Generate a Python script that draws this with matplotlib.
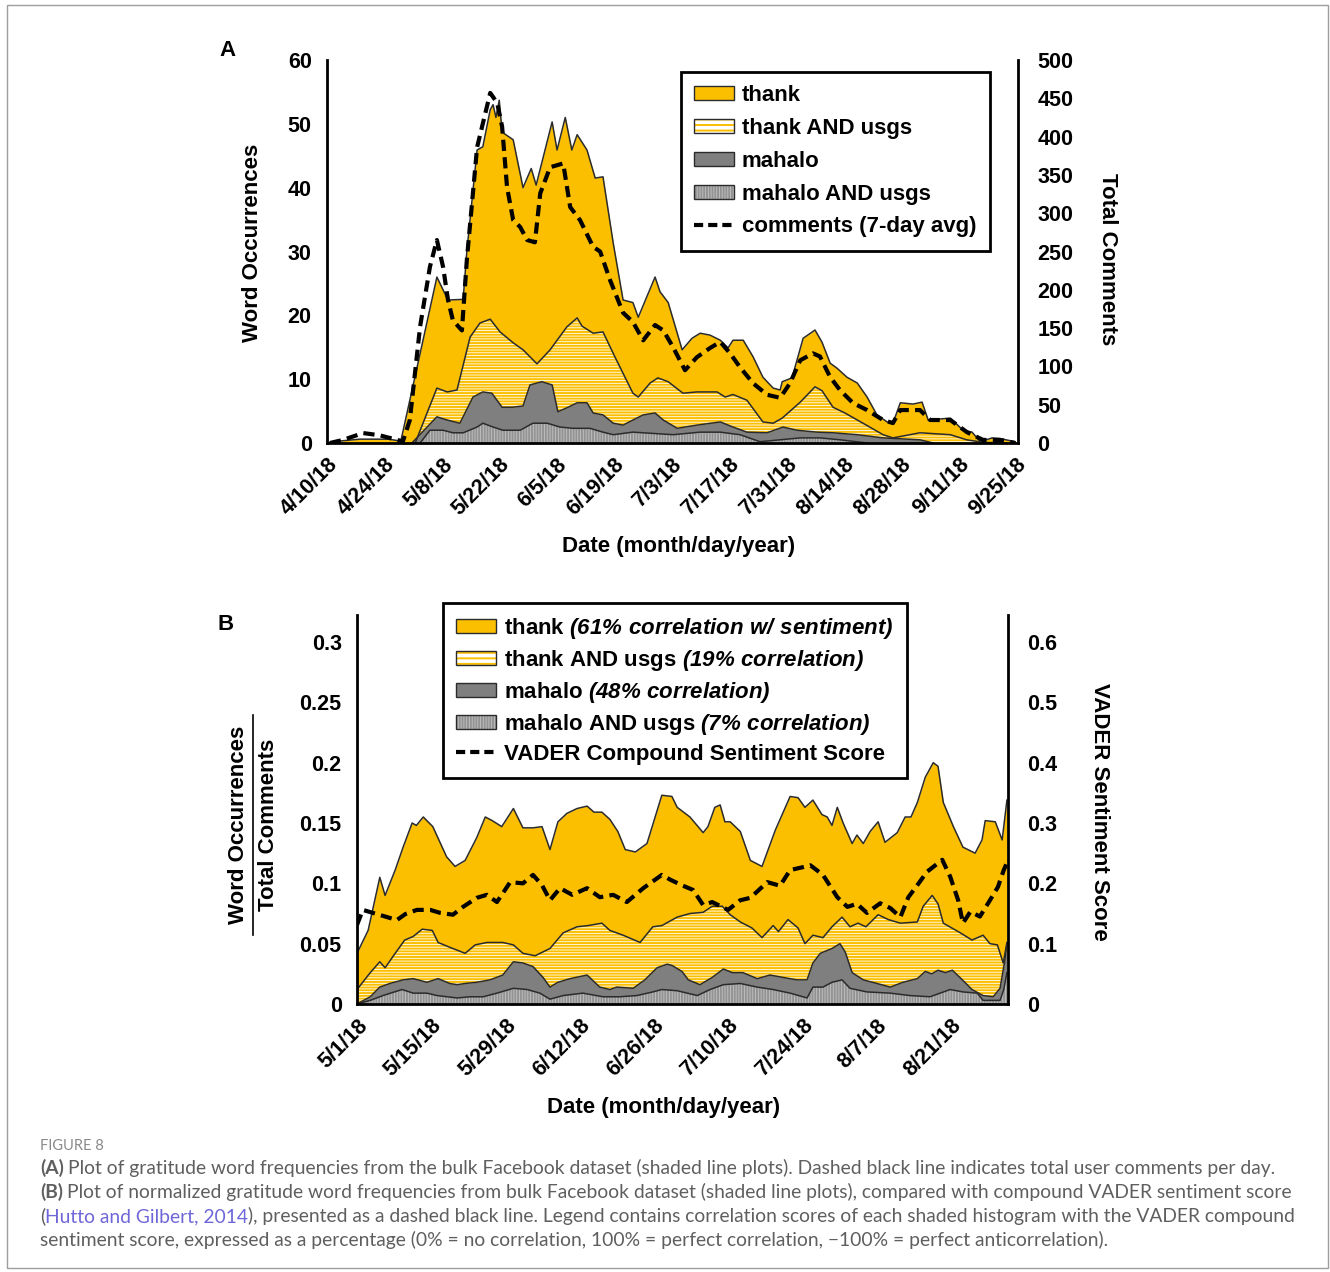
import matplotlib
matplotlib.use("Agg")
import matplotlib.pyplot as plt
import pandas as pd
from matplotlib.patches import Patch, Rectangle
from matplotlib.lines import Line2D
from matplotlib.text import Annotation

plt.rcParams["font.family"] = "Liberation Sans"
plt.rcParams["font.weight"] = "bold"
plt.rcParams["hatch.linewidth"] = 1.4
plt.rcParams["mathtext.fontset"] = "custom"
plt.rcParams["mathtext.rm"] = "Liberation Sans:italic:bold"
plt.rcParams["mathtext.it"] = "Liberation Sans:italic:bold"
plt.rcParams["mathtext.bf"] = "Liberation Sans:italic:bold"

# ---------------- panel A data (days after 4/10/18) ----------------
thank_a_days = [0, 3, 8, 15, 18, 22.7, 26.8, 29.5, 33.2, 34.1, 36.6, 38, 39.8, 40.5, 41.2,
                42, 42.7, 45.4, 47.8, 49.8, 51, 54.9, 56.1, 58.1, 59.7, 61, 63.4, 65.4, 67.3,
                69.8, 72.2, 74.6, 75.9, 80, 81.2, 83.2, 86.6, 89, 91, 93.4, 95.9, 97.8, 99,
                101.5, 103.9, 106.3, 108.8, 110.5, 111, 113.4, 116.1, 119, 120.7, 122.7, 124.4,
                126.8, 129.3, 131.7, 134.1, 136.6, 138, 139.8, 142.9, 145.1, 146.6, 152, 155.1,
                157.3, 159.3, 162.2, 164.1, 167.8]
thank_a = [0, 0.3, 0.6, 0.6, 0.3, 14, 26, 22.4, 22.5, 30, 45.9, 46.4, 52.2, 53, 51,
           53.7, 48.7, 47.5, 40, 43, 40.4, 50.3, 45.9, 51, 45.9, 48.3, 45.9, 41.5, 41.7,
           31.3, 22.4, 22, 19.7, 26, 23.7, 22, 14.6, 16.4, 17.2, 16.9, 16.1, 14.9, 16.1,
           16.1, 13.5, 10.3, 8.6, 8.3, 9.6, 10.2, 16.4, 17.7, 15.8, 12.5, 11.7,
           10.3, 9.4, 7.2, 4.4, 3.3, 3.1, 6.3, 6.1, 6.4, 3.6, 3.9, 2,
           1.7, 0.2, 0.8, 0.7, 0.2]

thank_usgs_a_days = [21.5, 26.8, 29.3, 31.7, 34.9, 37.3, 39.8, 42.2, 45.4, 47.8, 51.2, 54.4,
                     58.5, 61, 62.2, 64.9, 67.3, 70.2, 74.6, 75.9, 78.8, 80.7, 83.2, 86.8,
                     90.2, 95.1, 97.1, 99, 102.4, 106.3, 108.8, 111, 115.4, 119, 120.7, 123.4,
                     126.3, 130.7, 135.6, 138, 144.6, 152, 156, 160, 166]
thank_usgs_a = [0, 8.6, 8, 8.3, 16.6, 18.8, 19.4, 17.4, 15.7, 14.6, 12.4, 14.6,
                18.2, 19.6, 18.3, 17.2, 17.4, 13.5, 7.8, 7.2, 9.4, 10.2, 9.6, 7.8,
                8, 8, 7.2, 7.6, 6.7, 3.3, 3.1, 3.9, 6.4, 8.8, 8.2, 5.6,
                4.7, 3.1, 1.3, 0.8, 1.6, 1.3, 0.5, 0.1, 0]

mahalo_a_days = [20.7, 26.8, 29.3, 32.4, 35.6, 38, 40.2, 42.7, 45.1, 47.8, 49.5, 52.4, 54.9,
                 56.3, 58.8, 61, 63.4, 64.9, 67.3, 69.8, 72.2, 74.6, 77.1, 80, 82, 85.4, 90.2,
                 95.9, 99, 102.4, 107.3, 111.2, 114.6, 119.5, 123.4, 129.3, 135.6, 144.6, 147.8]
mahalo_a = [0, 4.1, 3.6, 3.1, 7.2, 8, 7.8, 5.6, 5.6, 5.8, 9.1, 9.6, 9.1,
            4.9, 5.6, 6.3, 6.3, 4.7, 4.4, 3.1, 2.8, 3.6, 4.4, 4.7, 3.6, 2.3, 2.8,
            3.3, 2.5, 1.7, 1.6, 2.5, 2, 1.7, 1.6, 1.3, 0.8, 0.5, 0]

mahalo_usgs_a_days = [22.7, 25.1, 28.3, 30.7, 33.2, 36.6, 38, 40.5, 42.9, 47.1, 50.2, 53.7,
                      56.8, 60, 64.1, 67.3, 69.8, 74.6, 79.5, 84.4, 91, 95.9, 100.7, 105.6,
                      110.5, 115.4, 120.2, 125.1, 131.7]
mahalo_usgs_a = [0, 2, 2, 1.6, 1.6, 2.5, 3.1, 2.5, 2, 2, 3.1, 3.1,
                 2.5, 2.3, 2.3, 1.7, 1.3, 1.7, 1.5, 1.3, 1.7, 1.7, 1.3, 0.2,
                 0.5, 0.8, 0.8, 0.5, 0]

comments_days = [0.7, 3.9, 8.8, 12.9, 17.1, 18.5, 20.2, 22.7, 25.1, 26.8, 28.3, 29.5, 30.7,
                 32.9, 34.1, 36.6, 39.8, 41.5, 42.7, 43.9, 45.4, 47.1, 48.8, 50.7, 52, 54.4,
                 57.6, 59.3, 61.7, 64.9, 66.6, 69, 72.2, 74.6, 77.1, 80, 82, 84.4, 87.3, 90.2,
                 93.4, 95.9, 98.3, 100.7, 103.9, 107.3, 110.5, 112.9, 115.4, 118.5, 120.2,
                 122.7, 125.1, 128.3, 131.7, 135.6, 138, 139.8, 144.6, 147.1, 152, 156.1, 160,
                 164.1, 167.8]
comments = [0, 4, 13, 10, 4, 2, 30, 152, 230, 265, 230, 187, 160,
            147, 239, 386, 457, 444, 413, 334, 291, 282, 265, 262, 326, 360,
            365, 308, 291, 256, 250, 213, 170, 158, 134, 154, 147, 125, 95, 112,
            124, 132, 117, 99, 78, 63, 59, 78, 108, 117, 113,
            86, 69, 52, 43, 30, 26, 43, 43, 30, 30, 14, 4,
            4, 0]

# ---------------- panel B data (days after 5/1/18) ----------------
thank_b_days = [0, 2.1, 4.3, 5.3, 7.2, 8.7, 10.4, 11.2, 12.5, 14.3, 16.9, 18.5, 20.4, 22.6,
                24.2, 25.5, 27.3, 29.5, 31.3, 33.2, 34.9, 36.4, 37.9, 39.6, 41.5, 43.4, 44.7,
                46.2, 47.7, 49.2, 50.6, 52.5, 54.7, 57.5, 59.4, 60.4, 62.8, 65.3, 66.2, 67.5,
                68.5, 69.4, 70.4, 72.3, 74.2, 76.4, 78.9, 81.7, 83.2, 84.5, 86, 87.7, 88.7,
                89.6, 90.6, 91.7, 93.4, 94.3, 95.5, 96.8, 98.3, 99.6, 101.9, 103.4, 104.5,
                105.7, 107.2, 108.7, 109.6, 110.6, 112.5, 114.3, 116.6, 117.9, 118.5, 120.4,
                121.7, 122.6]
thank_b = [0.042, 0.061, 0.105, 0.09, 0.111, 0.13, 0.15, 0.148, 0.155, 0.147, 0.122, 0.114,
           0.119, 0.138, 0.155, 0.152, 0.147, 0.162, 0.146, 0.146, 0.147, 0.128, 0.151, 0.158,
           0.162, 0.164, 0.159, 0.159, 0.153, 0.143, 0.128, 0.126, 0.133, 0.173, 0.172, 0.163,
           0.155, 0.142, 0.147, 0.163, 0.165, 0.151, 0.151, 0.143, 0.119, 0.114, 0.144, 0.172,
           0.171, 0.163, 0.169, 0.157, 0.155, 0.148, 0.163, 0.15, 0.133, 0.14, 0.133, 0.143,
           0.151, 0.134, 0.142, 0.155, 0.155, 0.167, 0.188, 0.2, 0.197, 0.167, 0.147, 0.13,
           0.125, 0.136, 0.152, 0.151, 0.136, 0.169]

thank_usgs_b_days = [0, 2.5, 4.3, 5.3, 7.2, 9, 10.6, 12.3, 14.2, 15.3, 17.5, 20.4, 22.3, 24.5,
                     27.5, 29.5, 31.3, 33.6, 36.4, 38.9, 41.5, 43.6, 46.2, 47.7, 50.2, 53.4,
                     55.8, 57.5, 60.4, 62.8, 65.3, 67, 68.9, 70.4, 72.3, 74.5, 76.4, 78.5, 79.5,
                     81.3, 83.2, 84.5, 86, 87.9, 89.6, 91.5, 93, 94.5, 96, 98.3, 100.2, 102.5,
                     105.7, 106.8, 108.5, 109.6, 110.6, 113.8, 116, 118.1, 119.4, 120.8, 121.9,
                     122.6]
thank_usgs_b = [0.012, 0.026, 0.035, 0.03, 0.042, 0.053, 0.056, 0.062, 0.061, 0.051, 0.047,
                0.042, 0.049, 0.051, 0.051, 0.049, 0.042, 0.04, 0.046, 0.059, 0.064, 0.065,
                0.067, 0.061, 0.057, 0.051, 0.064, 0.065, 0.072, 0.075, 0.076, 0.081, 0.081,
                0.074, 0.068, 0.063, 0.055, 0.065, 0.06, 0.07, 0.063, 0.05, 0.057, 0.055,
                0.064, 0.072, 0.064, 0.067, 0.064, 0.074, 0.07, 0.067, 0.068, 0.081, 0.09,
                0.083, 0.067, 0.059, 0.053, 0.057, 0.05, 0.049, 0.034, 0.051]

mahalo_b_days = [0, 2.5, 4.3, 6.2, 8.7, 10.6, 13.2, 15.3, 17.5, 18.9, 20.4, 22.6, 25.1, 27.5,
                 29.5, 31.3, 33.2, 35.1, 36.4, 37.9, 40.2, 43.4, 45.8, 47.7, 49, 52.1, 54.3,
                 56.6, 58.5, 59.4, 61.3, 62.5, 64.7, 67, 69.1, 70.8, 72.8, 75.5, 77.9, 80.4, 83,
                 84.9, 86, 87.4, 89.6, 91.1, 92.1, 93.4, 95.5, 98.1, 100.6, 103, 105.7, 107.2,
                 108.4, 109.6, 111, 112.3, 114.2, 116, 118.1, 120, 121.3, 122.2, 122.6]
mahalo_b = [0, 0.006, 0.014, 0.017, 0.02, 0.021, 0.018, 0.021, 0.017, 0.016, 0.017, 0.018,
            0.02, 0.024, 0.035, 0.034, 0.031, 0.022, 0.014, 0.018, 0.021, 0.024, 0.014, 0.012,
            0.014, 0.013, 0.02, 0.03, 0.033, 0.032, 0.027, 0.02, 0.016, 0.022, 0.029, 0.026,
            0.026, 0.021, 0.024, 0.022, 0.02, 0.02, 0.034, 0.042, 0.046, 0.05, 0.043, 0.026,
            0.02, 0.017, 0.014, 0.018, 0.021, 0.027, 0.025, 0.028, 0.026, 0.028, 0.02, 0.012,
            0.007, 0.006, 0.013, 0.036, 0.05]

mahalo_usgs_b_days = [0, 2.5, 4.9, 8.5, 10.6, 13.2, 15.1, 17, 18.9, 21.3, 23.8, 26.4, 29.5,
                      32.1, 34.5, 36.4, 38.9, 42.6, 46.4, 49.6, 52.8, 55.8, 57.5, 60.4, 64.2,
                      66.6, 69.1, 72.3, 75.5, 78.5, 81.7, 84.9, 86, 87.9, 89.6, 91.5, 93, 96.2,
                      100.6, 104.3, 108.1, 111.9, 114.3, 117, 118.1, 121.3, 122, 122.6]
mahalo_usgs_b = [0, 0.003, 0.007, 0.012, 0.009, 0.009, 0.007, 0.006, 0.005, 0.006, 0.006,
                 0.009, 0.013, 0.012, 0.009, 0.004, 0.007, 0.009, 0.006, 0.006, 0.007, 0.01,
                 0.012, 0.011, 0.007, 0.012, 0.016, 0.017, 0.014, 0.012, 0.009, 0.005, 0.014,
                 0.014, 0.018, 0.02, 0.013, 0.01, 0.009, 0.007, 0.006, 0.012, 0.01, 0.009,
                 0.003, 0.003, 0.012, 0.026]

vader_days = [0, 1.1, 3, 5.7, 7.5, 9.1, 11.3, 13.8, 15.7, 18.1, 20, 22.6, 24.5, 26.4, 28.9,
              31.3, 33.2, 34.9, 36.4, 38.3, 40.6, 43.4, 45.8, 48.3, 50.9, 54, 57.5, 59.1, 61.5,
              63.4, 65.3, 67, 70, 72.3, 74.2, 77.4, 79.8, 81.7, 84.2, 85.5, 87.9, 90.6, 92.5,
              94.3, 96.2, 98.7, 100.6, 102.5, 104, 105.7, 107.5, 110.4, 111.9, 113.4, 114.3,
              115.7, 117.5, 119.4, 120.9, 122, 122.6]
vader = [0.131, 0.156, 0.151, 0.144, 0.139, 0.149, 0.156, 0.156, 0.151, 0.148, 0.161, 0.176,
         0.181, 0.169, 0.202, 0.2, 0.214, 0.197, 0.172, 0.192, 0.181, 0.192, 0.177, 0.181,
         0.169, 0.192, 0.214, 0.206, 0.196, 0.189, 0.164, 0.169, 0.156, 0.172, 0.176, 0.202,
         0.196, 0.222, 0.227, 0.23, 0.214, 0.177, 0.161, 0.166, 0.151, 0.167, 0.159, 0.144,
         0.177, 0.197, 0.219, 0.239, 0.211, 0.172, 0.134, 0.153, 0.145, 0.172, 0.194, 0.222,
         0.234]

yticks_a = [0, 10, 20, 30, 40, 50, 60]
yticks_a2 = [0, 50, 100, 150, 200, 250, 300, 350, 400, 450, 500]
yticks_b = [0, 0.05, 0.1, 0.15, 0.2, 0.25, 0.3]
ylabels_b = ["0", "0.05", "0.1", "0.15", "0.2", "0.25", "0.3"]
yticks_b2 = [0, 0.1, 0.2, 0.3, 0.4, 0.5, 0.6]
ylabels_b2 = ["0", "0.1", "0.2", "0.3", "0.4", "0.5", "0.6"]

labels_a = ["thank", "thank AND usgs", "mahalo", "mahalo AND usgs", "comments (7-day avg)"]
labels_b = [r"thank $(61\%\ correlation\ w/\ sentiment)$",
            r"thank AND usgs $(19\%\ correlation)$",
            r"mahalo $(48\%\ correlation)$",
            r"mahalo AND usgs $(7\%\ correlation)$",
            "VADER Compound Sentiment Score"]

START_A = pd.Timestamp("2018-04-10")
START_B = pd.Timestamp("2018-05-01")

GOLD = "#fbbf00"
GRAY = "#7f7f7f"
LIGHT = "#c2c2c2"
STIPPLE = "#939393"
OUTLINE = "#2b2b2b"
DASH = (0, (2.7, 1.5))
CAP_COLOR = "#5f5f5f"
LINK = "#6f67d8"

W, H = 1330, 1272


def box(l, t, r, b):
    return [l / W, 1 - b / H, (r - l) / W, (b - t) / H]


def dates(start, days):
    return start + pd.to_timedelta(days, unit="D")


def area(ax, start, days, vals, **kw):
    x = dates(start, days)
    ax.fill_between(x, 0, vals, linewidth=0, **kw)
    ax.plot(x, vals, color=OUTLINE, lw=1.1)


def draw_layers(ax, start, layers):
    d1, v1, d2, v2, d3, v3, d4, v4 = layers
    area(ax, start, d1, v1, facecolor=GOLD, edgecolor=GOLD)
    area(ax, start, d2, v2, facecolor="white", edgecolor=GOLD, hatch="------")
    area(ax, start, d3, v3, facecolor=GRAY, edgecolor=GRAY)
    area(ax, start, d4, v4, facecolor=LIGHT, edgecolor=STIPPLE, hatch="||||||")


def style_axes(ax, ax2):
    for a in (ax, ax2):
        a.spines["top"].set_visible(False)
    ax.spines["right"].set_visible(False)
    ax2.spines["left"].set_visible(False)
    ax2.spines["bottom"].set_visible(False)
    for s in ("left", "bottom"):
        ax.spines[s].set_linewidth(2)
    ax2.spines["right"].set_linewidth(2)
    ax.tick_params(axis="both", length=0, labelsize=15.5)
    ax.tick_params(axis="y", pad=11)
    ax.tick_params(axis="x", pad=8)
    ax2.tick_params(axis="y", length=0, labelsize=15.5, pad=14)


def legend_handles():
    frame = dict(facecolor="none", edgecolor=OUTLINE, linewidth=1)
    return [Patch(facecolor=GOLD, edgecolor=OUTLINE, linewidth=1),
            (Patch(facecolor="white", edgecolor=GOLD, hatch="---", linewidth=0), Patch(**frame)),
            Patch(facecolor=GRAY, edgecolor=OUTLINE, linewidth=1),
            (Patch(facecolor=LIGHT, edgecolor=STIPPLE, hatch="||||||", linewidth=0), Patch(**frame)),
            Line2D([], [], color="black", lw=3, ls=(0, (2.2, 1.2)))]


def date_ticks(ax, start, end):
    ticks = pd.date_range(start, end, freq="14D")
    ax.set_xticks(ticks)
    ax.set_xticklabels([f"{d.month}/{d.day}/{d:%y}" for d in ticks],
                       rotation=45, ha="right", rotation_mode="anchor")


fig = plt.figure(figsize=(13.3, 12.72), dpi=100)

# ---------------- panel A ----------------
axA = fig.add_axes(box(327, 60, 1018, 443))
draw_layers(axA, START_A, [thank_a_days, thank_a, thank_usgs_a_days, thank_usgs_a,
                           mahalo_a_days, mahalo_a, mahalo_usgs_a_days, mahalo_usgs_a])
axA.set_ylim(0, 60)
axA.set_yticks(yticks_a)
axA.set_xlim(START_A, START_A + pd.Timedelta(days=168.5))
date_ticks(axA, "2018-04-10", "2018-09-25")

axA2 = axA.twinx()
axA2.plot(dates(START_A, comments_days), comments, color="black", lw=3, ls=DASH)
axA2.set_ylim(0, 500)
axA2.set_yticks(yticks_a2)
style_axes(axA, axA2)

legA = axA2.legend(legend_handles(), labels_a, loc="upper right", bbox_to_anchor=(0.959, 0.969),
                   fancybox=False, edgecolor="black", framealpha=1, fontsize=16,
                   handlelength=1.8, handleheight=0.6, labelspacing=0.53, borderpad=0.6,
                   handletextpad=0.35, borderaxespad=0)
legA.get_frame().set_linewidth(2)

# ---------------- panel B ----------------
axB = fig.add_axes(box(357, 615, 1008, 1004))
draw_layers(axB, START_B, [thank_b_days, thank_b, thank_usgs_b_days, thank_usgs_b,
                           mahalo_b_days, mahalo_b, mahalo_usgs_b_days, mahalo_usgs_b])
axB.set_ylim(0, 0.3224)
axB.set_yticks(yticks_b)
axB.set_yticklabels(ylabels_b)
axB.set_xlim(START_B, START_B + pd.Timedelta(days=122.8))
date_ticks(axB, "2018-05-01", "2018-08-21")

axB2 = axB.twinx()
axB2.plot(dates(START_B, vader_days), vader, color="black", lw=3, ls=DASH)
axB2.set_ylim(0, 0.6448)
axB2.set_yticks(yticks_b2)
axB2.set_yticklabels(ylabels_b2)
style_axes(axB, axB2)

legB = axB2.legend(legend_handles(), labels_b, loc="upper left", bbox_to_anchor=(0.132, 1.031),
                   fancybox=False, edgecolor="black", framealpha=1, fontsize=16,
                   handlelength=1.8, handleheight=0.6, labelspacing=0.31, borderpad=0.6,
                   handletextpad=0.35, borderaxespad=0)
legB.get_frame().set_linewidth(2)

# ---------------- labels ----------------
lab = dict(fontsize=16, weight="bold", ha="center", va="center")
fig.text(227 / W, 1 - 50 / H, "A", **lab)
fig.text(226 / W, 1 - 624 / H, "B", **lab)
fig.text(252 / W, 1 - 243 / H, "Word Occurrences", rotation=90, **lab)
fig.text(1108 / W, 1 - 259 / H, "Total Comments", rotation=270, **lab)
fig.text(679 / W, 1 - 546 / H, "Date (month/day/year)", **lab)
fig.text(664 / W, 1 - 1108 / H, "Date (month/day/year)", **lab)
fig.text(1100 / W, 1 - 812 / H, "VADER Sentiment Score", rotation=270, **lab)
fig.text(238 / W, 1 - 825 / H, "Word Occurrences", rotation=90, **lab)
fig.text(269 / W, 1 - 825 / H, "Total Comments", rotation=90, **lab)
fig.add_artist(Line2D([253 / W, 253 / W], [1 - 715 / H, 1 - 935 / H], color="black", lw=1.2,
                      transform=fig.transFigure))

# ---------------- caption ----------------
cap = dict(fontsize=13.9, family=["Lato", "DejaVu Sans"], color=CAP_COLOR, va="baseline",
           ha="left", weight="normal")
fig.text(40 / W, 1 - 1150 / H, "FIGURE 8", **{**cap, "fontsize": 10.5, "color": "#8a8a8a"})


def caption_line(y_px, pieces):
    yb = 1 - y_px / H
    prev = fig.text(40 / W, yb, pieces[0][0], **{**cap, "color": pieces[0][1],
                                                   "weight": pieces[0][2]})
    for txt, color, weight, gap in pieces[1:]:
        prev = fig.add_artist(Annotation(txt, xy=(1, yb), xycoords=(prev, "figure fraction"),
                                         xytext=(gap, 0), textcoords="offset points",
                                         **{**cap, "color": color, "weight": weight}))


caption_line(1174, [("(A)", CAP_COLOR, "bold"),
                    ("Plot of gratitude word frequencies from the bulk Facebook dataset (shaded "
                     "line plots). Dashed black line indicates total user comments per day.",
                     CAP_COLOR, "normal", 3)])
caption_line(1198, [("(B)", CAP_COLOR, "bold"),
                    ("Plot of normalized gratitude word frequencies from bulk Facebook dataset "
                     "(shaded line plots), compared with compound VADER sentiment score",
                     CAP_COLOR, "normal", 3)])
caption_line(1222, [("(", CAP_COLOR, "normal"),
                    ("Hutto and Gilbert, 2014", LINK, "normal", 0),
                    ("), presented as a dashed black line. Legend contains correlation scores of "
                     "each shaded histogram with the VADER compound", CAP_COLOR, "normal", 0)])
fig.text(40 / W, 1 - 1246 / H,
         "sentiment score, expressed as a percentage (0% = no correlation, 100% = perfect "
         "correlation, \u2212100% = perfect anticorrelation).", **cap)

fig.add_artist(Rectangle((7 / W, 4 / H), 1321 / W, 1263 / H, transform=fig.transFigure,
                         fill=False, edgecolor="#9e9e9e", linewidth=1))

fig.savefig("out.png", dpi=100)
